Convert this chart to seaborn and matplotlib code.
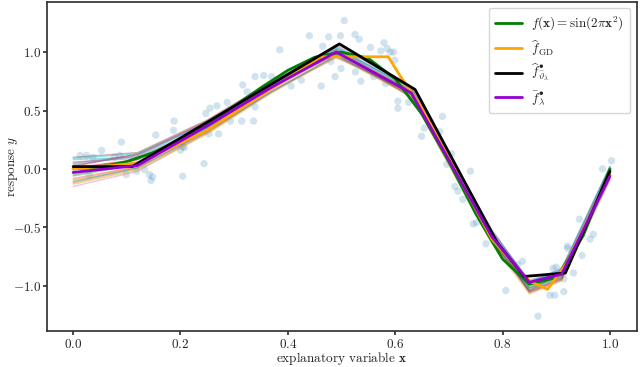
import numpy as np
import pandas as pd
import matplotlib
matplotlib.use("Agg")
import matplotlib.pyplot as plt
import seaborn as sns

obs_x = [0.013, 0.025, 0.037, 0.053, 0.090, 0.077, 0.087, 0.099, 0.118, 0.133,
         0.142, 0.148, 0.145, 0.154, 0.188, 0.187, 0.204, 0.207, 0.200, 0.204,
         0.244, 0.253, 0.247, 0.255, 0.268, 0.287, 0.271, 0.271, 0.293, 0.314,
         0.336, 0.339, 0.316, 0.324, 0.339, 0.355, 0.370, 0.406, 0.425, 0.385,
         0.440, 0.462, 0.465, 0.476, 0.480, 0.488, 0.498, 0.499, 0.505, 0.525,
         0.533, 0.554, 0.573, 0.579, 0.585, 0.591, 0.597, 0.599, 0.536, 0.526,
         0.560, 0.582, 0.605, 0.605, 0.625, 0.688, 0.649, 0.705, 0.654, 0.683,
         0.696, 0.711, 0.717, 0.740, 0.726, 0.745, 0.751, 0.769, 0.837, 0.828,
         0.806, 0.866, 0.888, 0.897, 0.894, 0.900, 0.914, 0.914, 0.921, 0.921,
         0.932, 0.943, 0.969, 0.963, 0.948, 0.986, 1.003, 0.030, 0.060, 0.110]
obs_y = [0.116, 0.116, 0.100, 0.158, 0.230, 0.100, 0.116, -0.048, -0.020, -0.006,
         -0.048, -0.068, -0.099, 0.290, 0.410, 0.330, 0.190, 0.186, 0.160, -0.062,
         0.045, 0.300, 0.475, 0.520, 0.540, 0.570, 0.400, 0.300, 0.410, 0.410,
         0.410, 0.530, 0.720, 0.660, 0.790, 0.800, 0.790, 0.710, 0.760, 1.020,
         1.140, 0.710, 1.050, 1.130, 0.920, 0.790, 1.140, 0.860, 1.270, 1.150,
         1.110, 1.040, 1.010, 1.080, 1.030, 1.000, 1.000, 0.930, 0.750, 0.830,
         0.790, 0.730, 0.580, 0.520, 0.570, 0.450, 0.280, 0.130, 0.350, 0.320,
         0.040, -0.150, -0.190, -0.020, -0.260, -0.470, -0.460, -0.640, -0.790, -0.820,
         -1.040, -1.260, -1.080, -1.080, -0.850, -0.840, -1.050, -0.940, -0.660, -0.680,
         -0.890, -0.430, -0.560, -0.600, -0.740, 0.000, 0.070, -0.050, 0.020, 0.040]

# ensemble of fitted curves (thin background lines)
ens_x = [0.0, 0.12, 0.25, 0.37, 0.49, 0.63, 0.78, 0.85, 0.91, 1.0]
ens_1 = [0.10, 0.14, 0.42, 0.75, 1.04, 0.69, -0.54, -0.98, -0.87, 0.01]
ens_2 = [-0.15, -0.02, 0.31, 0.67, 0.97, 0.62, -0.63, -1.05, -0.94, -0.09]
ens_3 = [0.05, 0.12, 0.40, 0.73, 1.02, 0.70, -0.57, -0.95, -0.87, 0.02]
ens_4 = [-0.10, 0.01, 0.33, 0.68, 0.98, 0.63, -0.61, -1.03, -0.93, -0.07]
ens_5 = [0.08, 0.10, 0.38, 0.72, 1.05, 0.67, -0.53, -0.96, -0.88, -0.01]
ens_6 = [-0.06, 0.04, 0.35, 0.70, 1.00, 0.67, -0.59, -1.01, -0.90, -0.04]
ens_7 = [0.02, 0.13, 0.41, 0.74, 1.01, 0.61, -0.56, -1.06, -0.95, -0.03]
ens_8 = [-0.12, 0.00, 0.31, 0.66, 0.96, 0.65, -0.62, -0.99, -0.92, -0.08]
ens_9 = [0.06, 0.09, 0.37, 0.71, 1.06, 0.70, -0.52, -0.97, -0.85, 0.02]
ens_10 = [-0.03, 0.06, 0.35, 0.71, 0.99, 0.66, -0.57, -1.02, -0.92, -0.05]
ens_11 = [0.00, 0.08, 0.38, 0.73, 1.00, 0.64, -0.60, -1.04, -0.89, -0.02]
ens_12 = [-0.08, 0.02, 0.32, 0.67, 0.95, 0.68, -0.58, -0.98, -0.91, -0.06]
ens_13 = [0.04, 0.11, 0.40, 0.74, 1.03, 0.65, -0.55, -0.99, -0.90, -0.02]
ens_14 = [-0.13, -0.01, 0.30, 0.65, 0.96, 0.62, -0.64, -1.07, -0.96, -0.10]
ens_15 = [0.09, 0.13, 0.39, 0.73, 1.03, 0.69, -0.55, -0.97, -0.86, 0.02]
ens_16 = [-0.05, 0.05, 0.36, 0.70, 1.01, 0.66, -0.59, -1.02, -0.91, -0.04]
ens_17 = [0.01, 0.08, 0.36, 0.71, 0.98, 0.63, -0.61, -1.05, -0.94, -0.06]
ens_18 = [-0.09, 0.02, 0.34, 0.69, 1.00, 0.68, -0.57, -1.00, -0.88, -0.03]
ens_19 = [0.03, 0.12, 0.41, 0.75, 1.02, 0.67, -0.53, -0.96, -0.90, -0.01]
ens_20 = [-0.11, 0.01, 0.32, 0.66, 0.97, 0.64, -0.61, -1.04, -0.93, -0.08]
ensemble = [ens_1, ens_2, ens_3, ens_4, ens_5, ens_6, ens_7, ens_8, ens_9, ens_10,
            ens_11, ens_12, ens_13, ens_14, ens_15, ens_16, ens_17, ens_18, ens_19, ens_20]

# true function values
true_x = [0.0, 0.05, 0.10, 0.15, 0.20, 0.25, 0.30, 0.35, 0.40, 0.45, 0.50,
          0.55, 0.60, 0.65, 0.70, 0.75, 0.80, 0.85, 0.90, 0.95, 1.0]
true_y = [0.0, 0.016, 0.063, 0.141, 0.249, 0.383, 0.536, 0.696, 0.844, 0.956, 1.0,
          0.946, 0.771, 0.468, 0.063, -0.383, -0.771, -0.986, -0.930, -0.572, 0.0]

gd_x = [0.0, 0.12, 0.25, 0.37, 0.46, 0.587, 0.61, 0.65, 0.78, 0.85, 0.884, 0.92, 1.0]
gd_y = [0.0, 0.05, 0.33, 0.69, 0.96, 0.96, 0.79, 0.52, -0.60, -0.96, -1.03, -0.80, -0.05]

best_x = [0.0, 0.11, 0.496, 0.637, 0.79, 0.84, 0.917, 1.0]
best_y = [0.02, 0.02, 1.07, 0.68, -0.63, -0.92, -0.89, -0.02]

avg_x = [0.0, 0.12, 0.25, 0.37, 0.49, 0.63, 0.78, 0.85, 0.91, 1.0]
avg_y = [-0.03, 0.03, 0.37, 0.70, 1.00, 0.65, -0.58, -0.97, -0.90, -0.06]

ens_colors = ["#8c564b", "#e377c2", "#7f7f7f", "#bcbd22", "#17becf",
              "#2ca02c", "#d62728", "#ff7f0e", "#9467bd", "#1f77b4"]

sns.set_theme(style="ticks")
plt.rcParams["font.family"] = "serif"
plt.rcParams["font.serif"] = ["cmr10", "DejaVu Serif"]
plt.rcParams["mathtext.fontset"] = "cm"
plt.rcParams["axes.formatter.use_mathtext"] = True
plt.rcParams["axes.edgecolor"] = "#333333"

fig = plt.figure(figsize=(6.4, 3.67), dpi=100)
ax = fig.add_axes([0.074, 0.097, 0.921, 0.898])

sns.scatterplot(x=obs_x, y=obs_y, color="#1f77b4", alpha=0.2, s=28,
                edgecolor="none", ax=ax, legend=False)

for i, vals in enumerate(ensemble):
    sns.lineplot(x=ens_x, y=vals, color=ens_colors[i % len(ens_colors)], alpha=0.45,
                 lw=1.0, ax=ax, estimator=None, sort=False, legend=False)

sns.lineplot(x=true_x, y=true_y, color="green", lw=2, ax=ax, estimator=None,
             label=r"$f(\mathbf{x}) = \sin(2\pi\mathbf{x}^2)$")
sns.lineplot(x=gd_x, y=gd_y, color="orange", lw=2, ax=ax, estimator=None, sort=False,
             label=r"$\widehat{f}_{\mathrm{GD}}$")
sns.lineplot(x=best_x, y=best_y, color="black", lw=2, ax=ax, estimator=None, sort=False,
             label=r"$\widehat{f}^{\bullet}_{\widehat{\vartheta}_\lambda}$")
sns.lineplot(x=avg_x, y=avg_y, color="darkviolet", lw=2, ax=ax, estimator=None, sort=False,
             label=r"$\bar{f}^{\bullet}_{\lambda}$")

ax.set_xlim(-0.048, 1.05)
ax.set_ylim(-1.39, 1.43)
ax.set_xticks([0.0, 0.2, 0.4, 0.6, 0.8, 1.0])
ax.set_yticks([-1.0, -0.5, 0.0, 0.5, 1.0])
ax.tick_params(labelsize=9.5, length=3, pad=1.5, color="#333333")
ax.set_xlabel(r"explanatory variable $\mathbf{x}$", fontsize=9.5, labelpad=-0.5)
ax.set_ylabel(r"response $y$", fontsize=9.5)
ax.yaxis.set_label_coords(-0.046, 0.5)

leg = ax.legend(loc="upper right", fontsize=9.5, frameon=True, handlelength=2.0,
                borderpad=0.5, labelspacing=0.35, handletextpad=0.7)
leg.get_frame().set_edgecolor("#cccccc")

fig.savefig("out.png", dpi=100)
